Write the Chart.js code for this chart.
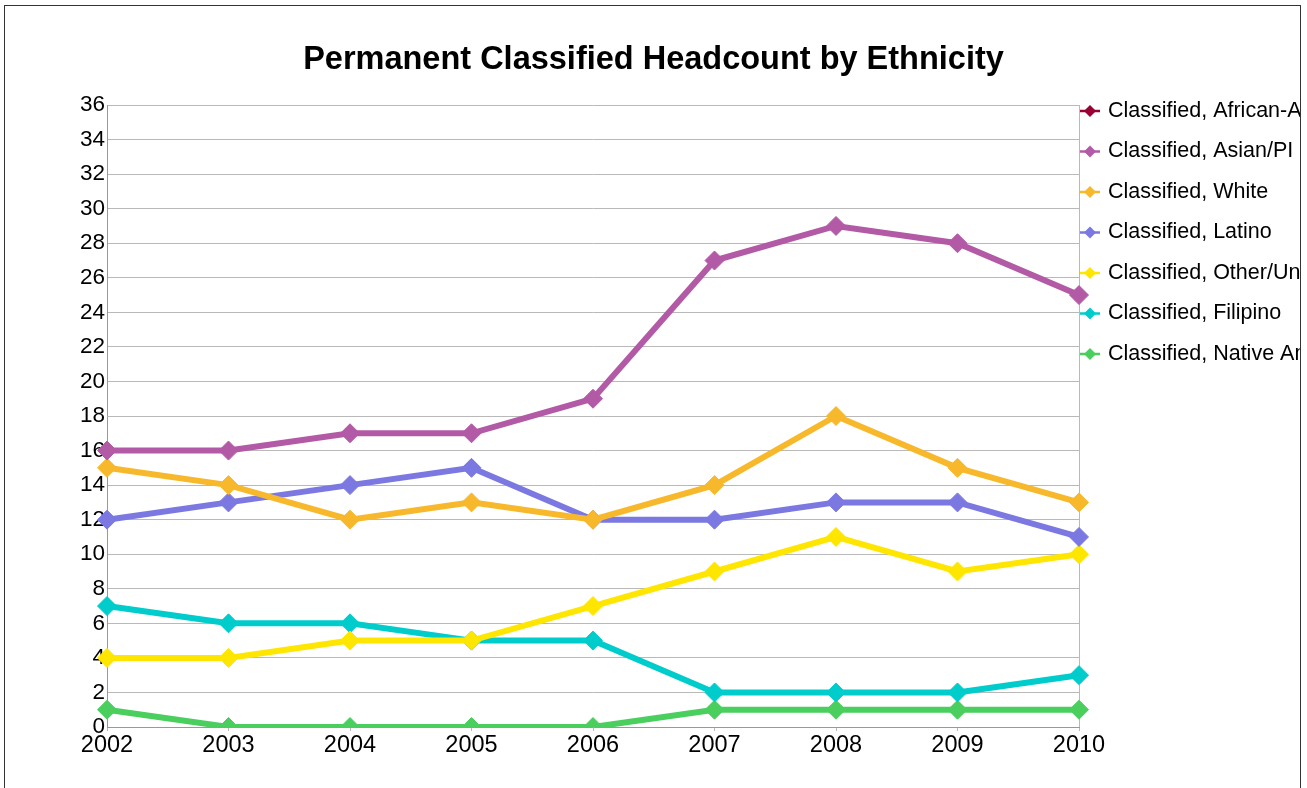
<!DOCTYPE html>
<html>
<head>
<meta charset="utf-8">
<title>Permanent Classified Headcount by Ethnicity</title>
<script src="https://cdn.jsdelivr.net/npm/chart.js@4.4.1/dist/chart.umd.min.js"></script>
<style>
  html, body { margin: 0; padding: 0; background: #fff; }
  #wrap { position: relative; width: 1307px; height: 788px; }
</style>
</head>
<body>
<div id="wrap"><canvas id="chart" width="1307" height="788"></canvas></div>
<script>
// === data ===
const years = ['2002', '2003', '2004', '2005', '2006', '2007', '2008', '2009', '2010'];

const seriesNames = [
    'Classified, African-American',
    'Classified, Asian/PI',
    'Classified, White',
    'Classified, Latino',
    'Classified, Other/Unknown',
    'Classified, Filipino',
    'Classified, Native American'
];

// no visible line for this one in the picture
const africanAmerican = [null, null, null, null, null, null, null, null, null];
const asianPI  = [16, 16, 17, 17, 19, 27, 29, 28, 25];
const white    = [15, 14, 12, 13, 12, 14, 18, 15, 13];
const latino   = [12, 13, 14, 15, 12, 12, 13, 13, 11];
const other    = [4, 4, 5, 5, 7, 9, 11, 9, 10];
const filipino = [7, 6, 6, 5, 5, 2, 2, 2, 3];
const nativeAm = [1, 0, 0, 0, 0, 1, 1, 1, 1];

const yTicks = [0, 2, 4, 6, 8, 10, 12, 14, 16, 18, 20, 22, 24, 26, 28, 30, 32, 34, 36];

const seriesValues = [africanAmerican, asianPI, white, latino, other, filipino, nativeAm];
const seriesColors = ['#990033', '#b35aa6', '#f7b92b', '#7b79e1', '#ffe600', '#00cccc', '#4acf5f'];

const FONT = "'Liberation Sans', Arial, sans-serif";
const GRID = '#b9b9b9';

// legend drawn by hand so it can run off the right edge like the original
const sideLegend = {
    id: 'sideLegend',
    afterDraw(chart) {
        const ctx = chart.ctx;
        ctx.save();
        ctx.beginPath();
        ctx.rect(0, 0, 1300, 788);
        ctx.clip();
        chart.data.datasets.forEach((ds, i) => {
            const y = 111 + i * 40.5;
            ctx.strokeStyle = ds.borderColor;
            ctx.lineWidth = 2.5;
            ctx.beginPath();
            ctx.moveTo(1080, y);
            ctx.lineTo(1100, y);
            ctx.stroke();
            ctx.fillStyle = ds.borderColor;
            ctx.beginPath();
            ctx.moveTo(1090 - 6, y);
            ctx.lineTo(1090, y - 6);
            ctx.lineTo(1090 + 6, y);
            ctx.lineTo(1090, y + 6);
            ctx.closePath();
            ctx.fill();
            ctx.fillStyle = '#000';
            ctx.font = '21.5px ' + FONT;
            ctx.textBaseline = 'middle';
            ctx.textAlign = 'left';
            ctx.fillText(ds.label, 1108, y);
        });
        ctx.restore();

        // outer frame
        ctx.save();
        ctx.strokeStyle = '#333';
        ctx.lineWidth = 1;
        ctx.strokeRect(4.5, 5.5, 1296, 800);
        ctx.restore();
    }
};

const ctx = document.getElementById('chart').getContext('2d');

const chart = new Chart(ctx, {
    type: 'line',
    data: {
        labels: years,
        datasets: seriesNames.map((name, i) => ({
            label: name,
            data: seriesValues[i],
            borderColor: seriesColors[i],
            backgroundColor: seriesColors[i],
            borderWidth: 6,
            tension: 0,
            fill: false,
            pointStyle: 'rectRot',
            pointRadius: 9.5,
            pointHoverRadius: 9.5,
            pointBorderWidth: 1,
            spanGaps: false
        }))
    },
    options: {
        responsive: false,
        animation: false,
        events: [],
        layout: { padding: 0 },
        plugins: {
            legend: { display: false },
            tooltip: { enabled: false },
            title: {
                display: true,
                text: 'Permanent Classified Headcount by Ethnicity',
                color: '#000',
                font: { family: FONT, size: 32.5, weight: 'bold', lineHeight: 1.2 },
                padding: { top: 41, bottom: 25 }
            }
        },
        scales: {
            x: {
                offset: false,
                afterFit(scale) { scale.height = 61; },
                ticks: {
                    color: '#000',
                    font: { family: FONT, size: 23.5 },
                    padding: 0,
                    maxRotation: 0,
                    autoSkip: false
                },
                grid: {
                    drawOnChartArea: true,
                    color: c => (c.index === years.length - 1 ? GRID : 'rgba(0,0,0,0)'),
                    tickColor: GRID,
                    tickLength: 4,
                    lineWidth: 1
                },
                border: { color: '#999', width: 1 }
            },
            y: {
                min: 0,
                max: 36,
                afterFit(scale) { scale.width = 107; },
                afterBuildTicks(scale) { scale.ticks = yTicks.map(v => ({ value: v })); },
                ticks: {
                    color: '#000',
                    font: { family: FONT, size: 22.5 },
                    padding: 2
                },
                grid: {
                    color: GRID,
                    drawTicks: false,
                    lineWidth: 1
                },
                border: { color: '#999', width: 1 }
            },
            // empty space on the right that holds the legend
            legendSpace: {
                type: 'linear',
                position: 'right',
                afterFit(scale) { scale.width = 228; },
                ticks: { display: false },
                grid: { display: false },
                border: { display: false }
            }
        }
    },
    plugins: [sideLegend]
});
</script>
</body>
</html>
